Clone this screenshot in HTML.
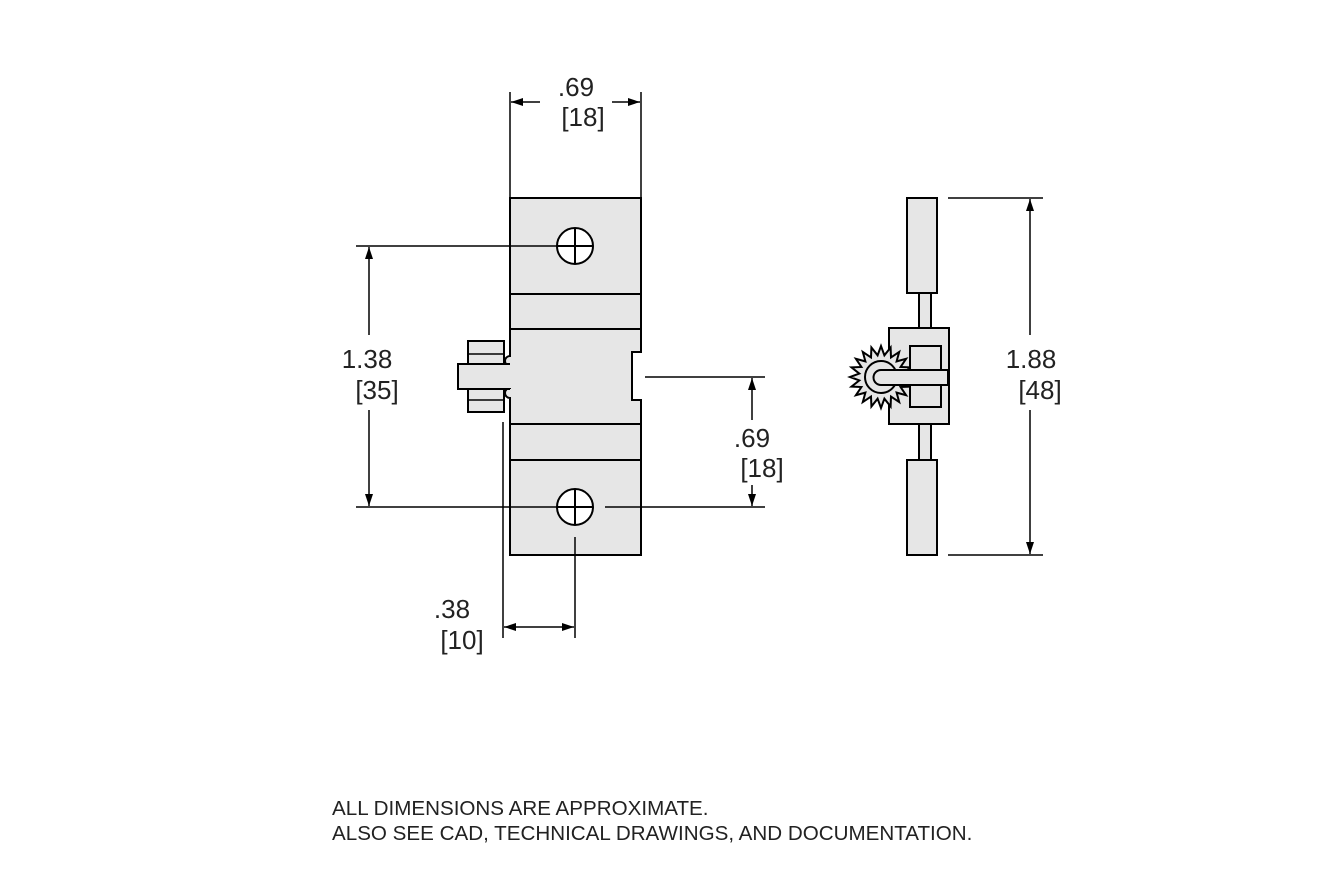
<!DOCTYPE html>
<html><head><meta charset="utf-8"><style>
body{margin:0;background:#fff;}
svg text{font-family:"Liberation Sans",sans-serif;fill:#222;}
</style></head><body>
<svg width="1343" height="864" viewBox="0 0 1343 864" xmlns="http://www.w3.org/2000/svg">
<defs><marker id="a" markerWidth="12" markerHeight="8" refX="12" refY="4" orient="auto-start-reverse" markerUnits="userSpaceOnUse"><path d="M0,0 L12,4 L0,8 Z" fill="#000"/></marker></defs>
<g stroke="#000" stroke-width="2" fill="#e6e6e6">
<!-- main body -->
<path d="M510,198 H641 V352 H632 V400 H641 V555 H510 V398 A5,5 0 0 1 510,388 V366 A5,5 0 0 1 510,356 Z"/>
<line x1="510" y1="294" x2="641" y2="294"/><line x1="510" y1="329" x2="641" y2="329"/>
<line x1="510" y1="424" x2="641" y2="424"/><line x1="510" y1="460" x2="641" y2="460"/>
<!-- knob -->
<rect x="468" y="341" width="36" height="24"/><rect x="468" y="388" width="36" height="24"/>
<line x1="468" y1="354" x2="504" y2="354" stroke-width="1.5"/><line x1="468" y1="400" x2="504" y2="400" stroke-width="1.5"/>
<rect x="458" y="365" width="53" height="23" stroke="none"/>
<path d="M510,364 H458 V389 H510" fill="none"/>
<circle cx="575" cy="246" r="18" fill="#fff"/><line x1="557" y1="246" x2="593" y2="246"/><line x1="575" y1="228" x2="575" y2="264"/>
<circle cx="575" cy="507" r="18" fill="#fff"/><line x1="557" y1="507" x2="593" y2="507"/><line x1="575" y1="489" x2="575" y2="525"/>
<!-- side view -->
<rect x="907" y="198" width="30" height="95"/><rect x="919" y="293" width="12" height="35"/>
<rect x="919" y="424" width="12" height="36"/><rect x="907" y="460" width="30" height="95"/>
<rect x="889" y="328" width="60" height="96"/>
<g transform="translate(2,0)">
<polygon points="910,377 900.7,380.4 908.5,386.6 898.6,387 904.1,395.2 894.6,392.6 897.2,402.1 889,396.6 888.6,406.5 882.4,398.7 879,408 875.6,398.7 869.4,406.5 869,396.6 860.8,402.1 863.4,392.6 853.9,395.2 859.4,387 849.5,386.6 857.3,380.4 848,377 857.3,373.6 849.5,367.4 859.4,367 853.9,358.8 863.4,361.4 860.8,351.9 869,357.4 869.4,347.5 875.6,355.3 879,346 882.4,355.3 888.6,347.5 889,357.4 897.2,351.9 894.6,361.4 904.1,358.8 898.6,367 908.5,367.4 900.7,373.6"/>
</g>
<rect x="910" y="346" width="31" height="61"/>
<circle cx="881" cy="377" r="16"/>
<path d="M881,370 H948 V385 H881 A7.5,7.5 0 0 1 881,370 Z"/>
</g>
<!-- dimension lines -->
<g stroke="#000" stroke-width="1.5" fill="none">
<line x1="510" y1="92" x2="510" y2="198"/><line x1="641" y1="92" x2="641" y2="198"/>
<line x1="540" y1="102" x2="511" y2="102" marker-end="url(#a)"/><line x1="612" y1="102" x2="640" y2="102" marker-end="url(#a)"/>
<line x1="356" y1="246" x2="557" y2="246"/><line x1="356" y1="507" x2="557" y2="507"/>
<line x1="369" y1="335" x2="369" y2="247" marker-end="url(#a)"/><line x1="369" y1="410" x2="369" y2="506" marker-end="url(#a)"/>
<line x1="645" y1="377" x2="765" y2="377"/><line x1="605" y1="507" x2="765" y2="507"/>
<line x1="752" y1="420" x2="752" y2="378" marker-end="url(#a)"/><line x1="752" y1="485" x2="752" y2="506" marker-end="url(#a)"/>
<line x1="503" y1="422" x2="503" y2="638"/><line x1="575" y1="537" x2="575" y2="638"/>
<line x1="504" y1="627" x2="574" y2="627" marker-start="url(#a)" marker-end="url(#a)"/>
<line x1="948" y1="198" x2="1043" y2="198"/><line x1="948" y1="555" x2="1043" y2="555"/>
<line x1="1030" y1="335" x2="1030" y2="199" marker-end="url(#a)"/><line x1="1030" y1="410" x2="1030" y2="554" marker-end="url(#a)"/>
</g>
<g font-size="26" text-anchor="middle">
<text x="576" y="96">.69</text><text x="583" y="126">[18]</text>
<text x="367" y="368">1.38</text><text x="377" y="399">[35]</text>
<text x="752" y="447">.69</text><text x="762" y="477">[18]</text>
<text x="452" y="618">.38</text><text x="462" y="649">[10]</text>
<text x="1031" y="368">1.88</text><text x="1040" y="399">[48]</text>
</g>
<g font-size="20.6">
<text x="332" y="815">ALL DIMENSIONS ARE APPROXIMATE.</text>
<text x="332" y="840">ALSO SEE CAD, TECHNICAL DRAWINGS, AND DOCUMENTATION.</text>
</g>
</svg>
</body></html>
